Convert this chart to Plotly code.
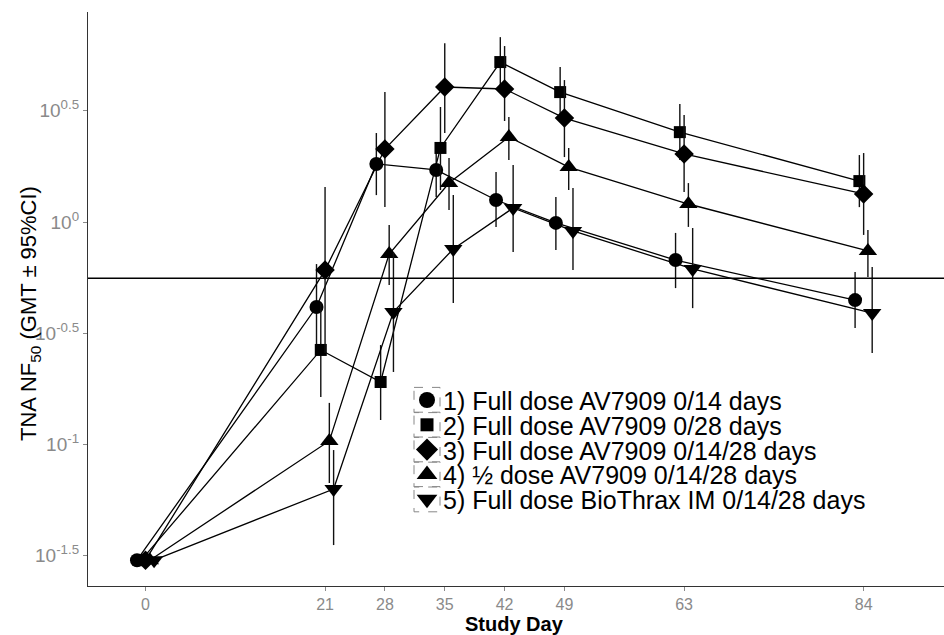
import plotly.graph_objects as go

# ---- data (log10 GMT) ----
days = [0, 21, 28, 35, 42, 49, 63, 84]
series_names = [
    "1) Full dose AV7909 0/14 days",
    "2) Full dose AV7909 0/28 days",
    "3) Full dose AV7909 0/14/28 days",
    "4) \u00bd dose AV7909 0/14/28 days",
    "5) Full dose BioThrax IM 0/14/28 days",
]
g1_log = [-1.52, -0.382, 0.261, 0.234, 0.099, -0.004, -0.171, -0.351]
g1_hi  = [-1.52, -0.189, 0.400, 0.355, 0.225, 0.112, -0.049, -0.225]
g1_lo  = [-1.52, -0.575, 0.121, 0.112, -0.022, -0.126, -0.297, -0.476]

g2_log = [-1.52, -0.575, -0.719, 0.333, 0.719, 0.584, 0.404, 0.184]
g2_hi  = [-1.52, -0.364, -0.553, 0.517, 0.831, 0.697, 0.530, 0.301]
g2_lo  = [-1.52, -0.787, -0.890, 0.144, 0.607, 0.472, 0.279, 0.067]

g3_log = [-1.52, -0.216, 0.328, 0.607, 0.598, 0.467, 0.306, 0.126]
g3_hi  = [-1.52, 0.157, 0.584, 0.804, 0.791, 0.638, 0.481, 0.310]
g3_lo  = [-1.52, -0.589, 0.067, 0.400, 0.454, 0.292, 0.135, -0.058]

g4_log = [-1.52, -0.984, -0.144, 0.175, 0.382, 0.247, 0.081, -0.130]
g4_hi  = [-1.52, -0.813, -0.013, 0.288, 0.472, 0.333, 0.175, -0.036]
g4_lo  = [-1.52, -1.173, -0.283, 0.054, 0.279, 0.144, -0.022, -0.247]

g5_log = [-1.52, -1.200, -0.404, -0.121, 0.063, -0.040, -0.211, -0.409]
g5_hi  = [-1.52, -1.025, -0.135, 0.121, 0.256, 0.153, -0.027, -0.202]
g5_lo  = [-1.52, -1.452, -0.674, -0.364, -0.135, -0.216, -0.387, -0.589]

threshold_log = -0.253
y_tick_logs = [-1.5, -1, -0.5, 0, 0.5]
y_tick_text = ["10<sup>-1.5</sup>", "10<sup>-1</sup>", "10<sup>-0.5</sup>", "10<sup>0</sup>", "10<sup>0.5</sup>"]
x_ticks = [0, 21, 28, 35, 42, 49, 63, 84]

# ---- styles ----
symbols = ["circle", "square", "diamond", "triangle-up", "triangle-down"]
sizes = [14, 12, 15, 16, 16]
leg_sizes = [16, 13, 17, 18, 18]
dodge = [-1.0, -0.5, 0.0, 0.5, 1.0]

W, H = 944, 635
ML, MR, MT, MB = 88, 0, 12, 49
PW, PH = W - ML - MR, H - MT - MB
NARROW = "Liberation Sans Narrow, Arial Narrow, Liberation Sans, Arial"
SANS = "Liberation Sans, Arial, sans-serif"


def px_x(p):
    return (p - ML) / PW


def px_y(p):
    return (H - MB - p) / PH


fig = go.Figure()
groups = [(g1_log, g1_hi, g1_lo), (g2_log, g2_hi, g2_lo), (g3_log, g3_hi, g3_lo),
          (g4_log, g4_hi, g4_lo), (g5_log, g5_hi, g5_lo)]
for i, (lg, hi, lo) in enumerate(groups):
    y = [10 ** v for v in lg]
    up = [10 ** h - 10 ** v for h, v in zip(hi, lg)]
    dn = [10 ** v - 10 ** l for l, v in zip(lo, lg)]
    xs = [d + dodge[i] for d in days]
    fig.add_trace(go.Scatter(
        x=xs, y=y, mode="lines+markers", showlegend=False, name=series_names[i],
        line=dict(color="black", width=1.3),
        marker=dict(symbol=symbols[i], size=sizes[i], color="black", line=dict(width=0)),
        error_y=dict(type="data", symmetric=False, array=up, arrayminus=dn,
                     width=0, thickness=1.4, color="#111"),
    ))

# ---- manual legend (pixel-positioned overlay axis) ----
leg_x_key = 427
leg_x_text = 441
leg_y0 = 400
leg_dy = 24.8
leg_rows = [leg_y0 + leg_dy * i for i in range(len(series_names))]
fig.add_trace(go.Scatter(
    x=[leg_x_key] * len(series_names), y=leg_rows, xaxis="x2", yaxis="y2",
    mode="markers", showlegend=False, hoverinfo="skip", opacity=1,
    marker=dict(symbol=symbols, size=leg_sizes, color="#000000", opacity=1,
                line=dict(width=0, color="#000000")),
))
for i, name in enumerate(series_names):
    yc = leg_rows[i]
    fig.add_shape(type="rect", xref="paper", yref="paper",
                  x0=px_x(414), x1=px_x(440), y0=px_y(yc - 12.6), y1=px_y(yc + 12.6),
                  line=dict(color="#888", width=1, dash="dash"))
    fig.add_annotation(text=name, xref="paper", yref="paper", x=px_x(leg_x_text), y=px_y(yc + 1),
                       xanchor="left", yanchor="middle", showarrow=False,
                       font=dict(family=SANS, size=25, color="black"))

fig.add_shape(type="line", xref="paper", x0=0, x1=1, yref="y",
              y0=10 ** threshold_log, y1=10 ** threshold_log,
              line=dict(color="black", width=1.5))

fig.update_xaxes(
    range=[-6.73, 93.4], tickvals=x_ticks, ticks="outside", ticklen=4, tickcolor="#8a8a8a",
    showgrid=False, zeroline=False, showline=True, linecolor="#333", linewidth=1.3,
    tickfont=dict(family=NARROW, size=16, color="#8a8a8a"), automargin=False,
)
fig.update_yaxes(
    type="log", range=[-1.636, 0.944],
    tickvals=[10 ** v for v in y_tick_logs], ticktext=y_tick_text,
    ticks="outside", ticklen=4, tickcolor="#8a8a8a",
    showgrid=False, zeroline=False, showline=True, linecolor="#333", linewidth=1.3,
    tickfont=dict(family=NARROW, size=19, color="#8a8a8a"), automargin=False,
)
fig.update_layout(
    xaxis2=dict(overlaying="x", range=[ML, W - MR], visible=False, fixedrange=True),
    yaxis2=dict(overlaying="y", range=[H - MB, MT], visible=False, fixedrange=True),
)
fig.add_annotation(text="<b>Study Day</b>", xref="paper", yref="paper",
                   x=px_x(514), y=px_y(624), xanchor="center", yanchor="middle", showarrow=False,
                   font=dict(family=NARROW, size=20, color="black"))
fig.add_annotation(text="TNA NF<sub>50</sub> (GMT \u00b1 95%CI)", xref="paper", yref="paper",
                   x=px_x(30), y=px_y(314), xanchor="center", yanchor="middle", showarrow=False,
                   textangle=-90, font=dict(family=SANS, size=22, color="black"))
fig.update_layout(
    width=W, height=H, margin=dict(l=ML, r=MR, t=MT, b=MB, autoexpand=False),
    plot_bgcolor="white", paper_bgcolor="white", showlegend=False,
)
fig.write_html("out.html", config={"displayModeBar": False},
               post_script="document.body.style.margin='0';document.body.style.overflow='hidden';")
